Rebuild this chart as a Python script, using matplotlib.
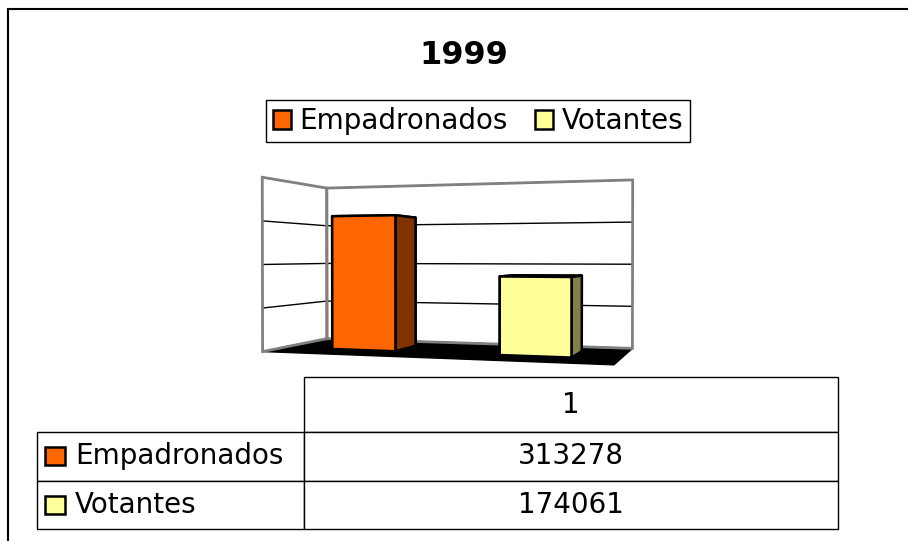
import numpy as np
import matplotlib.pyplot as plt
from matplotlib.patches import Patch, Rectangle
from matplotlib.lines import Line2D
from matplotlib.table import Table

plt.rcParams['font.family'] = ['DejaVu Sans']

title = "1999"
series = ["Empadronados", "Votantes"]
categories = ["1"]
values = [313278, 174061]
colors = ["#FF6600", "#FFFF99"]
side_colors = ["#803300", "#80804C"]
zticks = [0, 100000, 200000, 300000, 400000]

W, H = 908, 541
fig = plt.figure(figsize=(W / 100, H / 100), dpi=100)

# chart frame: only the top and left edges fall inside the picture
fig.add_artist(Line2D([8 / W, 8 / W], [0, 1 - 9 / H], color='black', lw=1.5))
fig.add_artist(Line2D([8 / W, 1], [1 - 9 / H, 1 - 9 / H], color='black', lw=1.5))

fig.text(464 / W, 1 - 55 / H, title, ha='center', va='center',
         fontsize=23, fontweight='bold')

handles = [Patch(facecolor=c, edgecolor='black', lw=1.8) for c in colors]
leg = fig.legend(handles, series, loc='center', bbox_to_anchor=(478 / W, 1 - 121 / H),
                 ncol=2, fontsize=20, frameon=True, fancybox=False, edgecolor='black',
                 handlelength=0.65, handleheight=0.65, handletextpad=0.3,
                 columnspacing=1.0, borderpad=0.25, borderaxespad=0, framealpha=1)
leg.get_frame().set_linewidth(1)

# 3d columns
ax = fig.add_axes([177 / W, 1 - 403 / H, 540 / W, 270 / H], projection='3d')
ax.set_proj_type('persp', focal_length=0.6)
xmax, zmax = 2, zticks[-1]
bw, bd = 0.4, 0.4
for i, v in enumerate(values):
    x0 = 0.32 + i * 1.02
    face_cols = [colors[i], colors[i], colors[i], colors[i], colors[i], side_colors[i]]
    bars = ax.bar3d(x0, 0.5 - bd / 2, 0, bw, bd, v, color=face_cols, shade=False,
                    edgecolor='black', linewidth=1.8)
    bars.set_clip_on(False)

# wall outlines
wall = dict(color='#808080', lw=2, solid_joinstyle='miter', clip_on=False)
ax.plot([0, 0, 0, 0, 0], [1, 0, 0, 1, 1], [0, 0, zmax, zmax, 0], **wall)
ax.plot([0, 0, xmax, xmax, 0], [1, 1, 1, 1, 1], [0, zmax, zmax, 0, 0], **wall)

ax.set_xlim(0, xmax)
ax.set_ylim(0, 1)
ax.set_zlim(zticks[0], zmax)
ax.view_init(elev=0.5, azim=-72)
ax.set_box_aspect((3.0, 1.25, 1.5), zoom=1.47)

ax.set_xticks([])
ax.set_yticks([])
ax.set_zticks(zticks)
ax.set_zticklabels([])
ax.zaxis._axinfo['tick']['inward_factor'] = 0
ax.zaxis._axinfo['tick']['outward_factor'] = 0
ax.zaxis._axinfo['grid']['color'] = 'black'
ax.zaxis._axinfo['grid']['linewidth'] = 1.0
ax.xaxis.set_pane_color('white')
ax.yaxis.set_pane_color('white')
ax.zaxis.set_pane_color('black')
for a in (ax.xaxis, ax.yaxis):
    a.pane.set_edgecolor('none')
ax.zaxis.pane.set_edgecolor('black')
for a in (ax.xaxis, ax.yaxis, ax.zaxis):
    a.line.set_color((0, 0, 0, 0))

# data table
tl, tr, tt, tb = 37, 838, 377, 529
tax = fig.add_axes([tl / W, 1 - tb / H, (tr - tl) / W, (tb - tt) / H])
tax.axis('off')
col_w = [267, 534]
row_h = [55, 48.5, 48.5]
tbl = Table(tax, bbox=[0, 0, 1, 1])
tbl.add_cell(0, 1, width=col_w[1], height=row_h[0], text=categories[0], loc='center')
for i, (name, v) in enumerate(zip(series, values)):
    c = tbl.add_cell(i + 1, 0, width=col_w[0], height=row_h[i + 1], text=name, loc='left')
    c.PAD = 0.142
    tbl.add_cell(i + 1, 1, width=col_w[1], height=row_h[i + 1], text=str(v), loc='center')
tbl.auto_set_font_size(False)
tbl.set_fontsize(20)
for cell in tbl.get_celld().values():
    cell.set_linewidth(1)
tax.add_table(tbl)

# legend keys inside the row labels
tot_w, tot_h = sum(col_w), sum(row_h)
for i, c in enumerate(colors):
    yc = tot_h - (sum(row_h[:i + 1]) + row_h[i + 1] / 2)
    tax.add_patch(Rectangle((8 / tot_w, (yc - 9) / tot_h), 20 / tot_w, 18 / tot_h,
                            facecolor=c, edgecolor='black', lw=1.8,
                            transform=tax.transAxes, zorder=5))

fig.savefig("out.png", dpi=100)
